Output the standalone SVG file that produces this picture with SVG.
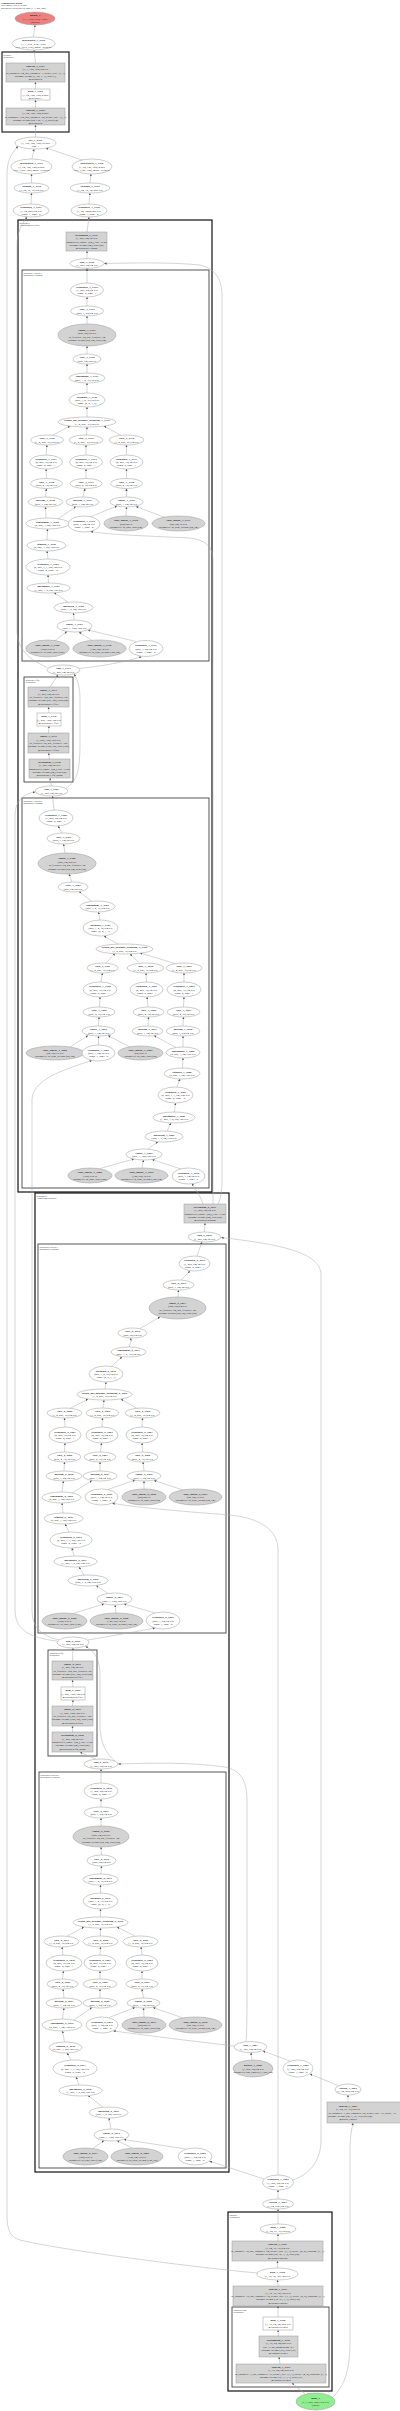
<svg xmlns="http://www.w3.org/2000/svg" width="400" height="2411" viewBox="0 0 400 2411">
<style>
text{font-family:"Liberation Serif","Times New Roman",serif;font-size:2.8px;text-anchor:middle;fill:#222}
.b{font-weight:bold}
.e{fill:#fff;stroke:#999;stroke-width:.5}
.g{fill:#d3d3d3;stroke:#999;stroke-width:.5}
.cb{fill:none;stroke:#111;stroke-width:1.2}
.cs{fill:none;stroke:#333;stroke-width:1.3}
.ci{fill:none;stroke:#444;stroke-width:.9}
.cl{font-size:2.4px;text-anchor:start}
#edges path{fill:none;stroke:#aaa;stroke-width:.5;marker-end:url(#ah)}
</style>
<defs>
<marker id="ah" viewBox="0 0 10 10" refX="10" refY="5" markerWidth="2.4" markerHeight="2.4" orient="auto" markerUnits="userSpaceOnUse"><path d="M0,0L10,5L0,10z" fill="#555"/></marker>
</defs>
<rect width="400" height="2411" fill="#fff"/>
<g id="title"><text class="cl" x="1" y="3.5"><tspan class="b">Computation Graph</tspan><tspan x="1" dy="2.9">169 tensors, total 61.6 MB</tspan><tspan x="1" dy="2.9">MultiheadAttn blocks: 4, input (1, 3, 256, 256)</tspan></text></g>
<g id="clusters">
<rect class="cs" x="2" y="52" width="67" height="80"/><text class="cl" x="3.5" y="55.5"><tspan>decoder</tspan><tspan x="3.5" dy="2.8">Sequential</tspan></text>
<rect class="cb" x="18" y="220" width="194" height="972"/><text class="cl" x="19.5" y="223.5"><tspan>attblocks.1</tspan><tspan x="19.5" dy="2.8">TransformerDecoder</tspan></text>
<rect class="ci" x="22" y="270" width="187" height="391"/><text class="cl" x="23.5" y="273.5"><tspan>attblocks.1.layers.1</tspan><tspan x="23.5" dy="2.8">MultiheadAttention</tspan></text>
<rect class="ci" x="24" y="677" width="49" height="105"/><text class="cl" x="25.5" y="680.5"><tspan>attblocks.1.ffn</tspan><tspan x="25.5" dy="2.8">Sequential</tspan></text>
<rect class="ci" x="22" y="798" width="187" height="390"/><text class="cl" x="23.5" y="801.5"><tspan>attblocks.1.layers.0</tspan><tspan x="23.5" dy="2.8">MultiheadAttention</tspan></text>
<rect class="cb" x="35" y="1193" width="194" height="979"/><text class="cl" x="36.5" y="1196.5"><tspan>attblocks.0</tspan><tspan x="36.5" dy="2.8">TransformerEncoder</tspan></text>
<rect class="ci" x="38" y="1244" width="188" height="389"/><text class="cl" x="39.5" y="1247.5"><tspan>attblocks.0.layers.1</tspan><tspan x="39.5" dy="2.8">MultiheadAttention</tspan></text>
<rect class="ci" x="48" y="1650" width="49" height="106"/><text class="cl" x="49.5" y="1653.5"><tspan>attblocks.0.ffn</tspan><tspan x="49.5" dy="2.8">Sequential</tspan></text>
<rect class="ci" x="39" y="1772" width="187" height="396"/><text class="cl" x="40.5" y="1775.5"><tspan>attblocks.0.layers.0</tspan><tspan x="40.5" dy="2.8">MultiheadAttention</tspan></text>
<rect class="cb" x="228" y="2212" width="104" height="179"/><text class="cl" x="229.5" y="2215.5"><tspan>encoder</tspan><tspan x="229.5" dy="2.8">Sequential</tspan></text>
<rect class="ci" x="232" y="2307" width="97" height="80"/><text class="cl" x="233.5" y="2310.5"><tspan>encoder.stem</tspan><tspan x="233.5" dy="2.8">Sequential</tspan></text>
</g>
<g id="edges">
<path d="M33.5,37L35,25"/><path d="M35.5,63L34,50"/><path d="M35.5,89L35.5,82"/><path d="M35.5,108L35.5,100"/><path d="M35.5,137L35.5,125"/>
<path d="M32,159L34,149"/><path d="M84,160.5L46,148"/><path d="M31.5,183L31.5,174"/><path d="M90,183L91,174"/><path d="M31,204L31.5,193"/><path d="M89,204L90,193"/>
<path d="M87,232L89,217"/><path d="M87,258.7L87,251"/><path d="M87,283L87,268.3"/><path d="M87,306L87,297"/><path d="M87,324L87,316"/><path d="M87,354L87,346"/><path d="M87,373L87,364"/><path d="M87,393L87,383"/><path d="M87,417L87,407"/>
<path d="M52,435.5L70,426"/><path d="M86.5,435L87,427"/><path d="M121,435.5L104,426"/>
<path d="M46,455L47,445"/><path d="M86,455L86,445"/><path d="M126.5,455L126.5,445"/>
<path d="M46.5,478.5L46,469"/><path d="M86,478.5L86,469"/><path d="M126.5,478.5L126.5,469"/>
<path d="M45.5,497L46.5,488.5"/><path d="M83,497L85,488.5"/><path d="M126.5,497L126.5,488.5"/>
<path d="M46,518L45.5,507"/><path d="M58,519L76,506.5"/><path d="M90,517L117,506"/><path d="M126,516L126.5,507"/><path d="M165,517.5L136,506.5"/>
<path d="M47,540L47.5,529"/><path d="M48,559L47,551"/><path d="M48.5,583L48,575"/><path d="M68,602.2L54,592.5"/><path d="M74,620L73.5,613"/>
<path d="M55,640.5L67,631.5"/><path d="M92,640.5L79,632"/><path d="M136,641.5L88,630"/>
<path d="M79,668.5C105,666 128,661 141.5,656.8"/>
<path d="M47.5,667.5C30,660 17,650 17,630L17,245C17,232 22,224 27,216.8"/>
<path d="M50,687L58,674.8"/><path d="M49,713L48.5,707"/><path d="M48.5,733L49,726"/><path d="M49.5,759L48.5,753"/><path d="M51.5,786L50,778"/>
<path d="M66,788.5C78,780 80,770 80,740L80,700C80,688 78,680 74,674"/>
<path d="M54,810L52.5,796"/><path d="M62,833L58,826"/><path d="M65,853L63.5,844"/><path d="M72,882L69,874"/><path d="M92,901.5L79,891.5"/><path d="M100,920L98.5,912"/><path d="M118,944L104,936"/>
<path d="M106,963L115,953.5"/><path d="M140,963.5L130,954"/><path d="M175,963.5L140,953"/>
<path d="M101,982L102.5,973"/><path d="M146.5,982L146,973"/><path d="M184,982L184,973"/>
<path d="M99.5,1007L100,997"/><path d="M148,1007L147,997"/><path d="M183.5,1007L184,997"/>
<path d="M98.5,1026L99,1017"/><path d="M148,1026L148.5,1017"/><path d="M183,1026L183.5,1017"/>
<path d="M176,1047.5L154,1035.5"/><path d="M183,1047L183,1036"/>
<path d="M70,1047L88,1035.5"/><path d="M98.5,1045L98.5,1036"/><path d="M130,1047L108,1035.5"/>
<path d="M182.5,1068L183,1058"/><path d="M177,1087L180,1079"/><path d="M174.5,1112L175.5,1103"/><path d="M167,1131L171,1123"/><path d="M148,1149L158,1141.5"/>
<path d="M100,1168.5L134,1159"/><path d="M142,1168L143.5,1160"/><path d="M181,1169L152,1159.5"/>
<path d="M203,1204C200,1195 196,1190 192,1183.5"/>
<path d="M213,1204C213,1196 213,1190 213,1180L213,560C213,546 205,540 190,538C150,536 110,535 90.5,531.5"/>
<path d="M218,1204C221,1198 222,1190 222,1180L222,295C222,278 214,268 200,265C170,262 130,263 104.2,263.5"/>
<path d="M57,1641C30,1638 15,1630 15,1610L15,815C15,800 25,793 35.2,792"/>
<path d="M59,1640C42,1636 32,1628 32,1610L32,1100C32,1085 50,1075 70,1068C80,1064 88,1062 92,1060.4"/>
<path d="M204.5,1232L205,1223"/><path d="M197,1256L202,1242"/>
<path d="M293,2180C305,2176 321,2165 321,2140L321,1275C321,1255 290,1245 221.2,1237.6"/>
<path d="M181,1280L190,1271"/><path d="M178,1297L178.5,1290"/><path d="M140,1328.5L160,1317"/><path d="M129.5,1347L131,1338"/><path d="M111,1366.5L122,1357"/><path d="M105,1389L106,1382"/>
<path d="M70,1408.5L88,1399"/><path d="M103,1408L104,1400"/><path d="M137,1408.5L121,1399"/>
<path d="M65,1427L64.5,1418"/><path d="M102,1427L102.5,1418"/><path d="M142,1427L142.5,1418"/>
<path d="M64.5,1452L65,1443"/><path d="M100.5,1452L101.5,1443"/><path d="M142.5,1452L142,1443"/>
<path d="M64,1471L64.5,1462"/><path d="M100,1471L100,1462"/><path d="M144,1471L143,1462"/>
<path d="M62,1492L63.5,1481"/><path d="M72,1493L92,1480.5"/>
<path d="M108,1489.5L135,1480"/><path d="M144,1489L144,1481"/><path d="M183,1490L154,1480.5"/>
<path d="M63,1513L62,1503"/><path d="M69,1532L65,1524"/><path d="M74,1556L72,1548"/><path d="M84,1575L79,1567"/><path d="M108,1593.3L96,1585.5"/>
<path d="M73,1613.5L104,1604"/><path d="M116,1613L115,1605"/><path d="M155,1613L124,1604"/>
<path d="M88,1640C110,1636 135,1632 155,1628"/>
<path d="M278,2175L278,1550C278,1530 260,1518 230,1515C190,1512 140,1508 112.3,1503.3"/>
<path d="M72.5,1661L73,1648"/><path d="M73,1687L72.5,1680"/><path d="M72.5,1706L73,1700"/><path d="M72.5,1732L72.5,1726"/><path d="M96,1759.3L80,1752"/>
<path d="M115,1761C108,1755 100,1745 100,1725L100,1675C100,1660 95,1651 85.5,1646.5"/>
<path d="M101,1783L101,1769"/><path d="M101,1807L101,1799"/><path d="M101,1826L101,1818"/><path d="M101.5,1855L101,1847"/><path d="M101,1874L101.5,1866"/><path d="M100.5,1893L100.5,1885"/><path d="M100.5,1917L100.5,1909"/>
<path d="M67,1936L84,1927"/><path d="M100.5,1936L100.5,1928"/><path d="M135,1936L117,1927"/>
<path d="M63,1955L62,1947"/><path d="M100,1955L100.5,1947"/><path d="M142,1955L141,1947"/>
<path d="M62.5,1979L63.5,1971"/><path d="M100,1979L100,1971"/><path d="M142,1979L142,1971"/>
<path d="M64,1998L63,1989"/><path d="M100,1998L100,1989"/><path d="M143.5,1998L142,1989"/>
<path d="M62.5,2019L64,2008"/><path d="M74,2020L92,2007.5"/>
<path d="M109,2017.5L135,2007.5"/><path d="M144,2017L143.5,2008"/><path d="M183,2018L153,2007.5"/>
<path d="M64.5,2042L62.5,2031"/><path d="M71,2060L67,2053"/><path d="M79,2085L76,2077"/><path d="M103,2107.3L88,2095.5"/><path d="M111,2129L109,2118"/>
<path d="M93,2148.5L104,2140.5"/><path d="M132,2148L117,2140.5"/><path d="M186,2149L124,2139.5"/>
<path d="M234.5,2046C200,2042 150,2036 113.3,2030.9"/>
<path d="M246,2041.5C247,2030 247,2010 247,1990L247,1800C247,1780 240,1770 225,1767C190,1762 150,1763 118.2,1764"/>
<path d="M264,2179L209.5,2161.2"/>
<path d="M252,2060L251,2052.5"/><path d="M290,2061L263,2051"/><path d="M338,2085.5L310,2074"/><path d="M348,2102L348,2095"/>
<path d="M278,2199L278,2190"/><path d="M278,2224L278,2209"/><path d="M278,2241L278,2234"/><path d="M277.5,2268L277.5,2261"/><path d="M278,2286L277.5,2280"/>
<path d="M278,2317L278,2306"/><path d="M278.5,2336L278,2330"/><path d="M280,2364L279,2357"/><path d="M305,2394L292,2383"/>
<path d="M333,2397C345,2385 350,2370 350,2340L350,2150C350,2135 352,2128 353,2123"/>
<path d="M257.5,2273C200,2268 60,2250 20,2240C10,2237 7,2230 7,2215L7,175C7,162 10,155 18,146.3"/>
</g>
<g id="n1"><ellipse cx="35" cy="18.5" rx="20" ry="6.5" fill="#f08080" stroke="#999" stroke-width=".5"/><text y="16.1"><tspan x="35" class="b">output_1</tspan><tspan x="35" dy="3.4">(1, 1, 512, 512) 1 MB</tspan><tspan x="35" dy="3.4">(output)</tspan></text></g>
<g id="n2"><ellipse class="e" cx="33.5" cy="43.5" rx="21.5" ry="6.5"/><text y="41.1"><tspan x="33.5" class="b">interpolate_3_4358</tspan><tspan x="33.5" dy="3.4">(1, 1, 512, 512) 1 MB</tspan><tspan x="33.5" dy="3.4">size=(512, 512), mode=bilinear</tspan></text></g>
<g id="n3"><rect class="g" x="6" y="63" width="59" height="19"/><text y="66.7"><tspan x="35.5" class="b">conv2d_3_4357</tspan><tspan x="35.5" dy="3.4">(1, 1, 128, 128) 64 KB</tspan><tspan x="35.5" dy="3.4">in_channels=64, out_channels=1, kernel_size=(1, 1)</tspan><tspan x="35.5" dy="3.4">params: weight (1, 64, 1, 1), bias (1)</tspan><tspan x="35.5" dy="3.4">@decoder.2</tspan></text></g>
<g id="n4"><rect class="e" x="21" y="89" width="29" height="11"/><text y="92.1"><tspan x="35.5" class="b">gelu_3_4356</tspan><tspan x="35.5" dy="3.4">(1, 64, 128, 128) 4 MB</tspan><tspan x="35.5" dy="3.4">@decoder.1</tspan></text></g>
<g id="n5"><rect class="g" x="6" y="108" width="59" height="17"/><text y="110.7"><tspan x="35.5" class="b">conv2d_3_4355</tspan><tspan x="35.5" dy="3.4">(1, 64, 128, 128) 4 MB</tspan><tspan x="35.5" dy="3.4">in_channels=192, out_channels=64, kernel_size=(3, 3)</tspan><tspan x="35.5" dy="3.4">params: weight (64, 192, 3, 3), bias (64)</tspan><tspan x="35.5" dy="3.4">@decoder.0</tspan></text></g>
<g id="n6"><ellipse class="e" cx="35.5" cy="143" rx="20.5" ry="6"/><text y="140.6"><tspan x="35.5" class="b">cat_3_4354</tspan><tspan x="35.5" dy="3.4">(1, 192, 128, 128) 12 MB</tspan><tspan x="35.5" dy="3.4">dim=1</tspan></text></g>
<g id="n7"><ellipse class="e" cx="31.5" cy="166.5" rx="20.5" ry="7.5"/><text y="164.1"><tspan x="31.5" class="b">interpolate_3_4353</tspan><tspan x="31.5" dy="3.4">(1, 64, 128, 128) 4 MB</tspan><tspan x="31.5" dy="3.4">size=(128, 128), mode=bilinear</tspan></text></g>
<g id="n8"><ellipse class="e" cx="92" cy="166.5" rx="20" ry="7.5"/><text y="164.1"><tspan x="92" class="b">interpolate_3_4350</tspan><tspan x="92" dy="3.4">(1, 64, 128, 128) 4 MB</tspan><tspan x="92" dy="3.4">size=(128, 128), mode=bilinear</tspan></text></g>
<g id="n9"><ellipse class="e" cx="31.5" cy="188" rx="17.5" ry="5"/><text y="187.3"><tspan x="31.5" class="b">reshape_3_4352</tspan><tspan x="31.5" dy="3.4">(1, 64, 16, 16) 64 KB</tspan></text></g>
<g id="n10"><ellipse class="e" cx="90" cy="188" rx="20" ry="5"/><text y="187.3"><tspan x="90" class="b">reshape_3_4349</tspan><tspan x="90" dy="3.4">(1, 64, 32, 32) 256 KB</tspan></text></g>
<g id="n11"><ellipse class="e" cx="31" cy="210.5" rx="18" ry="6.5"/><text y="208.1"><tspan x="31" class="b">transpose_3_4351</tspan><tspan x="31" dy="3.4">(1, 64, 256) 64 KB</tspan><tspan x="31" dy="3.4">dim0=1, dim1=2</tspan></text></g>
<g id="n12"><ellipse class="e" cx="89" cy="210.5" rx="18" ry="6.5"/><text y="208.1"><tspan x="89" class="b">transpose_3_4348</tspan><tspan x="89" dy="3.4">(1, 64, 1024) 256 KB</tspan><tspan x="89" dy="3.4">dim0=1, dim1=2</tspan></text></g>
<g id="n13"><rect class="g" x="66" y="232" width="41" height="19"/><text y="235.7"><tspan x="86.5" class="b">layernorm_3_4347</tspan><tspan x="86.5" dy="3.4">(1, 256, 64) 64 KB</tspan><tspan x="86.5" dy="3.4">normalized_shape=(64,), eps=1e-05</tspan><tspan x="86.5" dy="3.4">params: weight (64), bias (64)</tspan><tspan x="86.5" dy="3.4">@attblocks.1.norm</tspan></text></g>
<g id="n14"><ellipse class="e" cx="87" cy="263.5" rx="17" ry="4.8"/><text y="262.8"><tspan x="87" class="b">add_3_4346</tspan><tspan x="87" dy="3.4">(1, 256, 64) 64 KB</tspan></text></g>
<g id="n15"><ellipse class="e" cx="87" cy="290" rx="16.5" ry="7"/><text y="287.6"><tspan x="87" class="b">transpose_3_4345</tspan><tspan x="87" dy="3.4">(1, 256, 64) 64 KB</tspan><tspan x="87" dy="3.4">dim0=0, dim1=1</tspan></text></g>
<g id="n16"><ellipse class="e" cx="87" cy="311" rx="16.5" ry="5"/><text y="310.3"><tspan x="87" class="b">view_3_4344</tspan><tspan x="87" dy="3.4">(256, 1, 64) 64 KB</tspan></text></g>
<g id="n17"><ellipse class="g" cx="87" cy="335" rx="29" ry="11"/><text y="330.9"><tspan x="87" class="b">linear_3_4343</tspan><tspan x="87" dy="3.4">(256, 64) 64 KB</tspan><tspan x="87" dy="3.4">in_features=64, out_features=64</tspan><tspan x="87" dy="3.4">params: weight (64, 64), bias (64)</tspan></text></g>
<g id="n18"><ellipse class="e" cx="87" cy="359" rx="14" ry="5"/><text y="358.3"><tspan x="87" class="b">view_3_4342</tspan><tspan x="87" dy="3.4">(256, 64) 64 KB</tspan></text></g>
<g id="n19"><ellipse class="e" cx="87" cy="378" rx="18" ry="5"/><text y="377.3"><tspan x="87" class="b">contiguous_3_4341</tspan><tspan x="87" dy="3.4">(256, 1, 4, 16) 64 KB</tspan></text></g>
<g id="n20"><ellipse class="e" cx="87" cy="400" rx="18" ry="7"/><text y="397.6"><tspan x="87" class="b">permute_3_4340</tspan><tspan x="87" dy="3.4">(256, 1, 4, 16) 64 KB</tspan><tspan x="87" dy="3.4">dims=(2, 0, 1, 3)</tspan></text></g>
<g id="n21"><ellipse class="e" cx="87" cy="422" rx="29" ry="5"/><text y="421.3"><tspan x="87" class="b">scaled_dot_product_attention_3_4339</tspan><tspan x="87" dy="3.4">(1, 4, 256, 16) 64 KB</tspan></text></g>
<g id="n22"><ellipse class="e" cx="47" cy="440" rx="16.5" ry="5"/><text y="439.3"><tspan x="47" class="b">view_3_4338</tspan><tspan x="47" dy="3.4">(1, 4, 256, 16) 64 KB</tspan></text></g>
<g id="n23"><ellipse class="e" cx="86" cy="440" rx="17" ry="5"/><text y="439.3"><tspan x="86" class="b">view_3_4335</tspan><tspan x="86" dy="3.4">(1, 4, 256, 16) 64 KB</tspan></text></g>
<g id="n24"><ellipse class="e" cx="126.5" cy="440" rx="17.5" ry="5"/><text y="439.3"><tspan x="126.5" class="b">view_3_4332</tspan><tspan x="126.5" dy="3.4">(1, 4, 256, 16) 64 KB</tspan></text></g>
<g id="n25"><ellipse class="e" cx="46" cy="462" rx="16.5" ry="7"/><text y="459.6"><tspan x="46" class="b">transpose_3_4337</tspan><tspan x="46" dy="3.4">(4, 256, 16) 64 KB</tspan><tspan x="46" dy="3.4">dim0=0, dim1=1</tspan></text></g>
<g id="n26"><ellipse class="e" cx="86" cy="462" rx="16.5" ry="7"/><text y="459.6"><tspan x="86" class="b">transpose_3_4334</tspan><tspan x="86" dy="3.4">(4, 256, 16) 64 KB</tspan><tspan x="86" dy="3.4">dim0=0, dim1=1</tspan></text></g>
<g id="n27"><ellipse class="e" cx="126.5" cy="462" rx="16.5" ry="7"/><text y="459.6"><tspan x="126.5" class="b">transpose_3_4331</tspan><tspan x="126.5" dy="3.4">(4, 256, 16) 64 KB</tspan><tspan x="126.5" dy="3.4">dim0=0, dim1=1</tspan></text></g>
<g id="n28"><ellipse class="e" cx="46.5" cy="483.5" rx="16" ry="5"/><text y="482.8"><tspan x="46.5" class="b">view_3_4336</tspan><tspan x="46.5" dy="3.4">(256, 4, 16) 64 KB</tspan></text></g>
<g id="n29"><ellipse class="e" cx="86" cy="483.5" rx="16" ry="5"/><text y="482.8"><tspan x="86" class="b">view_3_4333</tspan><tspan x="86" dy="3.4">(256, 4, 16) 64 KB</tspan></text></g>
<g id="n30"><ellipse class="e" cx="126.5" cy="483.5" rx="16" ry="5"/><text y="482.8"><tspan x="126.5" class="b">view_3_4330</tspan><tspan x="126.5" dy="3.4">(256, 4, 16) 64 KB</tspan></text></g>
<g id="n31"><ellipse class="e" cx="45.5" cy="502" rx="17.5" ry="5"/><text y="501.3"><tspan x="45.5" class="b">getitem_3_4328</tspan><tspan x="45.5" dy="3.4">(256, 1, 64) 64 KB</tspan></text></g>
<g id="n32"><ellipse class="e" cx="82.5" cy="502" rx="16.5" ry="5"/><text y="501.3"><tspan x="82.5" class="b">getitem_3_4327</tspan><tspan x="82.5" dy="3.4">(256, 1, 64) 64 KB</tspan></text></g>
<g id="n33"><ellipse class="e" cx="126.5" cy="502" rx="16.5" ry="5"/><text y="501.3"><tspan x="126.5" class="b">linear_3_4329</tspan><tspan x="126.5" dy="3.4">(256, 1, 64) 64 KB</tspan></text></g>
<g id="n34"><ellipse class="e" cx="47.5" cy="523.5" rx="21.5" ry="5.5"/><text y="522.8"><tspan x="47.5" class="b">contiguous_3_4326</tspan><tspan x="47.5" dy="3.4">(2, 256, 1, 64) 128 KB</tspan></text></g>
<g id="n35"><ellipse class="e" cx="84" cy="524" rx="16" ry="8"/><text y="521.6"><tspan x="84" class="b">transpose_3_4319</tspan><tspan x="84" dy="3.4">(256, 1, 64) 64 KB</tspan><tspan x="84" dy="3.4">dim0=1, dim1=0</tspan></text></g>
<g id="n36"><ellipse class="g" cx="126" cy="523.5" rx="22" ry="7.5"/><text y="521.1"><tspan x="126" class="b">split_tensor_3_4318</tspan><tspan x="126" dy="3.4">(64) 256 B</tspan><tspan x="126" dy="3.4">parameter: in_proj_bias (64)</tspan></text></g>
<g id="n37"><ellipse class="g" cx="178.5" cy="523.5" rx="26.5" ry="7.5"/><text y="521.1"><tspan x="178.5" class="b">split_tensor_3_4317</tspan><tspan x="178.5" dy="3.4">(64, 64) 16 KB</tspan><tspan x="178.5" dy="3.4">parameter: in_proj_weight (64, 64)</tspan></text></g>
<g id="n38"><ellipse class="e" cx="46.5" cy="545.5" rx="19.5" ry="5.5"/><text y="544.8"><tspan x="46.5" class="b">squeeze_3_4325</tspan><tspan x="46.5" dy="3.4">(2, 256, 1, 64) 128 KB</tspan></text></g>
<g id="n39"><ellipse class="e" cx="48" cy="567" rx="22" ry="8"/><text y="564.6"><tspan x="48" class="b">transpose_3_4324</tspan><tspan x="48" dy="3.4">(2, 256, 1, 1, 64) 128 KB</tspan><tspan x="48" dy="3.4">dim0=0, dim1=-2</tspan></text></g>
<g id="n40"><ellipse class="e" cx="48.5" cy="588" rx="21.5" ry="5"/><text y="587.3"><tspan x="48.5" class="b">unsqueeze_3_4323</tspan><tspan x="48.5" dy="3.4">(1, 256, 1, 2, 64) 128 KB</tspan></text></g>
<g id="n41"><ellipse class="e" cx="73.5" cy="607.5" rx="19.5" ry="5.5"/><text y="606.8"><tspan x="73.5" class="b">unflatten_3_4322</tspan><tspan x="73.5" dy="3.4">(256, 1, 2, 64) 128 KB</tspan></text></g>
<g id="n42"><ellipse class="e" cx="74.5" cy="626" rx="17.5" ry="6"/><text y="625.3"><tspan x="74.5" class="b">linear_3_4321</tspan><tspan x="74.5" dy="3.4">(256, 1, 128) 128 KB</tspan></text></g>
<g id="n43"><ellipse class="g" cx="47.5" cy="648.5" rx="21.5" ry="8.5"/><text y="646.1"><tspan x="47.5" class="b">split_tensor_3_4320</tspan><tspan x="47.5" dy="3.4">(128) 512 B</tspan><tspan x="47.5" dy="3.4">parameter: in_proj_bias (128)</tspan></text></g>
<g id="n44"><ellipse class="g" cx="99.5" cy="648.5" rx="26.5" ry="8.5"/><text y="646.1"><tspan x="99.5" class="b">split_tensor_3_4316</tspan><tspan x="99.5" dy="3.4">(128, 64) 32 KB</tspan><tspan x="99.5" dy="3.4">parameter: in_proj_weight (128, 64)</tspan></text></g>
<g id="n45"><ellipse class="e" cx="146" cy="648.5" rx="17" ry="8"/><text y="646.1"><tspan x="146" class="b">transpose_3_4315</tspan><tspan x="146" dy="3.4">(256, 1, 64) 64 KB</tspan><tspan x="146" dy="3.4">dim0=1, dim1=0</tspan></text></g>
<g id="n46"><ellipse class="e" cx="63.5" cy="670" rx="16.5" ry="5"/><text y="669.3"><tspan x="63.5" class="b">add_3_4314</tspan><tspan x="63.5" dy="3.4">(1, 256, 64) 64 KB</tspan></text></g>
<g id="n47"><rect class="g" x="28" y="687" width="41" height="20"/><text y="691.2"><tspan x="48.5" class="b">linear_3_4313</tspan><tspan x="48.5" dy="3.4">(1, 256, 64) 64 KB</tspan><tspan x="48.5" dy="3.4">in_features=128, out_features=64</tspan><tspan x="48.5" dy="3.4">params: weight (64, 128), bias (64)</tspan><tspan x="48.5" dy="3.4">@attblocks.1.ffn.3</tspan></text></g>
<g id="n48"><rect class="e" x="37" y="713" width="24" height="13"/><text y="717.1"><tspan x="49" class="b">gelu_3_4312</tspan><tspan x="49" dy="3.4">(1, 256, 128) 128 KB</tspan><tspan x="49" dy="3.4">@attblocks.1.ffn.1</tspan></text></g>
<g id="n49"><rect class="g" x="28" y="733" width="41" height="20"/><text y="737.2"><tspan x="48.5" class="b">linear_3_4311</tspan><tspan x="48.5" dy="3.4">(1, 256, 128) 128 KB</tspan><tspan x="48.5" dy="3.4">in_features=64, out_features=128</tspan><tspan x="48.5" dy="3.4">params: weight (128, 64), bias (128)</tspan><tspan x="48.5" dy="3.4">@attblocks.1.ffn.0</tspan></text></g>
<g id="n50"><rect class="g" x="29" y="759" width="41" height="19"/><text y="762.7"><tspan x="49.5" class="b">layernorm_3_4310</tspan><tspan x="49.5" dy="3.4">(1, 256, 64) 64 KB</tspan><tspan x="49.5" dy="3.4">normalized_shape=(64,), eps=1e-05</tspan><tspan x="49.5" dy="3.4">params: weight (64), bias (64)</tspan><tspan x="49.5" dy="3.4">@attblocks.1.ffn_norm</tspan></text></g>
<g id="n51"><ellipse class="e" cx="51.5" cy="791" rx="16.5" ry="5"/><text y="790.3"><tspan x="51.5" class="b">add_3_4309</tspan><tspan x="51.5" dy="3.4">(1, 256, 64) 64 KB</tspan></text></g>
<g id="n52"><ellipse class="e" cx="56" cy="818" rx="17" ry="8"/><text y="815.6"><tspan x="56" class="b">transpose_3_4308</tspan><tspan x="56" dy="3.4">(1, 256, 64) 64 KB</tspan><tspan x="56" dy="3.4">dim0=0, dim1=1</tspan></text></g>
<g id="n53"><ellipse class="e" cx="63.5" cy="838.5" rx="16.5" ry="5.5"/><text y="837.8"><tspan x="63.5" class="b">view_3_4307</tspan><tspan x="63.5" dy="3.4">(256, 1, 64) 64 KB</tspan></text></g>
<g id="n54"><ellipse class="g" cx="67" cy="863.5" rx="29" ry="10.5"/><text y="859.4"><tspan x="67" class="b">linear_3_4306</tspan><tspan x="67" dy="3.4">(256, 64) 64 KB</tspan><tspan x="67" dy="3.4">in_features=64, out_features=64</tspan><tspan x="67" dy="3.4">params: weight (64, 64), bias (64)</tspan></text></g>
<g id="n55"><ellipse class="e" cx="73" cy="887" rx="15" ry="5"/><text y="886.3"><tspan x="73" class="b">view_3_4305</tspan><tspan x="73" dy="3.4">(256, 64) 64 KB</tspan></text></g>
<g id="n56"><ellipse class="e" cx="97.5" cy="906.5" rx="17.5" ry="5.5"/><text y="905.8"><tspan x="97.5" class="b">contiguous_3_4304</tspan><tspan x="97.5" dy="3.4">(256, 1, 4, 16) 64 KB</tspan></text></g>
<g id="n57"><ellipse class="e" cx="100.5" cy="928" rx="17.5" ry="8"/><text y="925.6"><tspan x="100.5" class="b">permute_3_4303</tspan><tspan x="100.5" dy="3.4">(256, 1, 4, 16) 64 KB</tspan><tspan x="100.5" dy="3.4">dims=(2, 0, 1, 3)</tspan></text></g>
<g id="n58"><ellipse class="e" cx="124.5" cy="949" rx="28.5" ry="5"/><text y="948.3"><tspan x="124.5" class="b">scaled_dot_product_attention_3_4302</tspan><tspan x="124.5" dy="3.4">(1, 4, 256, 16) 64 KB</tspan></text></g>
<g id="n59"><ellipse class="e" cx="102.5" cy="968" rx="15.5" ry="5"/><text y="967.3"><tspan x="102.5" class="b">view_3_4301</tspan><tspan x="102.5" dy="3.4">(1, 4, 256, 16) 64 KB</tspan></text></g>
<g id="n60"><ellipse class="e" cx="145.5" cy="968" rx="18.5" ry="5"/><text y="967.3"><tspan x="145.5" class="b">view_3_4298</tspan><tspan x="145.5" dy="3.4">(1, 4, 256, 16) 64 KB</tspan></text></g>
<g id="n61"><ellipse class="e" cx="184" cy="968" rx="18" ry="5"/><text y="967.3"><tspan x="184" class="b">view_3_4295</tspan><tspan x="184" dy="3.4">(1, 4, 256, 16) 64 KB</tspan></text></g>
<g id="n62"><ellipse class="e" cx="100" cy="989.5" rx="17" ry="7.5"/><text y="987.1"><tspan x="100" class="b">transpose_3_4300</tspan><tspan x="100" dy="3.4">(4, 256, 16) 64 KB</tspan><tspan x="100" dy="3.4">dim0=0, dim1=1</tspan></text></g>
<g id="n63"><ellipse class="e" cx="146.5" cy="989.5" rx="16.5" ry="7.5"/><text y="987.1"><tspan x="146.5" class="b">transpose_3_4297</tspan><tspan x="146.5" dy="3.4">(4, 256, 16) 64 KB</tspan><tspan x="146.5" dy="3.4">dim0=0, dim1=1</tspan></text></g>
<g id="n64"><ellipse class="e" cx="184" cy="989.5" rx="17" ry="7.5"/><text y="987.1"><tspan x="184" class="b">transpose_3_4294</tspan><tspan x="184" dy="3.4">(4, 256, 16) 64 KB</tspan><tspan x="184" dy="3.4">dim0=0, dim1=1</tspan></text></g>
<g id="n65"><ellipse class="e" cx="99" cy="1012" rx="16" ry="5"/><text y="1011.3"><tspan x="99" class="b">view_3_4299</tspan><tspan x="99" dy="3.4">(256, 4, 16) 64 KB</tspan></text></g>
<g id="n66"><ellipse class="e" cx="148.5" cy="1012" rx="15.5" ry="5"/><text y="1011.3"><tspan x="148.5" class="b">view_3_4296</tspan><tspan x="148.5" dy="3.4">(256, 4, 16) 64 KB</tspan></text></g>
<g id="n67"><ellipse class="e" cx="183.5" cy="1012" rx="16.5" ry="5"/><text y="1011.3"><tspan x="183.5" class="b">view_3_4293</tspan><tspan x="183.5" dy="3.4">(256, 4, 16) 64 KB</tspan></text></g>
<g id="n68"><ellipse class="e" cx="98.5" cy="1031" rx="16.5" ry="5"/><text y="1030.3"><tspan x="98.5" class="b">linear_3_4292</tspan><tspan x="98.5" dy="3.4">(256, 1, 64) 64 KB</tspan></text></g>
<g id="n69"><ellipse class="e" cx="147.5" cy="1031" rx="15.5" ry="5"/><text y="1030.3"><tspan x="147.5" class="b">getitem_3_4291</tspan><tspan x="147.5" dy="3.4">(256, 1, 64) 64 KB</tspan></text></g>
<g id="n70"><ellipse class="e" cx="183" cy="1031" rx="17" ry="5"/><text y="1030.3"><tspan x="183" class="b">getitem_3_4290</tspan><tspan x="183" dy="3.4">(256, 1, 64) 64 KB</tspan></text></g>
<g id="n71"><ellipse class="g" cx="55" cy="1053" rx="29" ry="7"/><text y="1050.6"><tspan x="55" class="b">split_tensor_3_4282</tspan><tspan x="55" dy="3.4">(64, 64) 16 KB</tspan><tspan x="55" dy="3.4">parameter: in_proj_weight (64, 64)</tspan></text></g>
<g id="n72"><ellipse class="e" cx="98.5" cy="1053" rx="16.5" ry="8"/><text y="1050.6"><tspan x="98.5" class="b">transpose_3_4281</tspan><tspan x="98.5" dy="3.4">(256, 1, 64) 64 KB</tspan><tspan x="98.5" dy="3.4">dim0=1, dim1=0</tspan></text></g>
<g id="n73"><ellipse class="g" cx="140.5" cy="1053" rx="22.5" ry="7"/><text y="1050.6"><tspan x="140.5" class="b">split_tensor_3_4283</tspan><tspan x="140.5" dy="3.4">(64) 256 B</tspan><tspan x="140.5" dy="3.4">parameter: in_proj_bias (64)</tspan></text></g>
<g id="n74"><ellipse class="e" cx="183" cy="1052.5" rx="17" ry="5.5"/><text y="1051.8"><tspan x="183" class="b">contiguous_3_4289</tspan><tspan x="183" dy="3.4">(2, 256, 1, 64) 128 KB</tspan></text></g>
<g id="n75"><ellipse class="e" cx="182" cy="1073.5" rx="18" ry="5.5"/><text y="1072.8"><tspan x="182" class="b">squeeze_3_4288</tspan><tspan x="182" dy="3.4">(2, 256, 1, 64) 128 KB</tspan></text></g>
<g id="n76"><ellipse class="e" cx="175.5" cy="1095" rx="17.5" ry="8"/><text y="1092.6"><tspan x="175.5" class="b">transpose_3_4287</tspan><tspan x="175.5" dy="3.4">(2, 256, 1, 1, 64) 128 KB</tspan><tspan x="175.5" dy="3.4">dim0=0, dim1=-2</tspan></text></g>
<g id="n77"><ellipse class="e" cx="174" cy="1117.5" rx="21" ry="5.5"/><text y="1116.8"><tspan x="174" class="b">unsqueeze_3_4286</tspan><tspan x="174" dy="3.4">(1, 256, 1, 2, 64) 128 KB</tspan></text></g>
<g id="n78"><ellipse class="e" cx="164" cy="1136.5" rx="19" ry="5.5"/><text y="1135.8"><tspan x="164" class="b">unflatten_3_4285</tspan><tspan x="164" dy="3.4">(256, 1, 2, 64) 128 KB</tspan></text></g>
<g id="n79"><ellipse class="e" cx="144" cy="1154.5" rx="18" ry="5.5"/><text y="1153.8"><tspan x="144" class="b">linear_3_4284</tspan><tspan x="144" dy="3.4">(256, 1, 128) 128 KB</tspan></text></g>
<g id="n80"><ellipse class="g" cx="90" cy="1175.5" rx="22" ry="7.5"/><text y="1173.1"><tspan x="90" class="b">split_tensor_3_4280</tspan><tspan x="90" dy="3.4">(128) 512 B</tspan><tspan x="90" dy="3.4">parameter: in_proj_bias (128)</tspan></text></g>
<g id="n81"><ellipse class="g" cx="141.5" cy="1175.5" rx="26.5" ry="7.5"/><text y="1173.1"><tspan x="141.5" class="b">split_tensor_3_4279</tspan><tspan x="141.5" dy="3.4">(128, 64) 32 KB</tspan><tspan x="141.5" dy="3.4">parameter: in_proj_weight (128, 64)</tspan></text></g>
<g id="n82"><ellipse class="e" cx="188.5" cy="1176" rx="16.5" ry="8"/><text y="1173.6"><tspan x="188.5" class="b">transpose_3_4278</tspan><tspan x="188.5" dy="3.4">(256, 1, 64) 64 KB</tspan><tspan x="188.5" dy="3.4">dim0=1, dim1=0</tspan></text></g>
<g id="n83"><rect class="g" x="184" y="1204" width="42" height="19"/><text y="1207.7"><tspan x="205" class="b">layernorm_2_4277</tspan><tspan x="205" dy="3.4">(1, 256, 64) 64 KB</tspan><tspan x="205" dy="3.4">normalized_shape=(64,), eps=1e-05</tspan><tspan x="205" dy="3.4">params: weight (64), bias (64)</tspan><tspan x="205" dy="3.4">@attblocks.0.norm</tspan></text></g>
<g id="n84"><ellipse class="e" cx="204.5" cy="1237" rx="16.5" ry="5"/><text y="1236.3"><tspan x="204.5" class="b">add_2_4276</tspan><tspan x="204.5" dy="3.4">(1, 256, 64) 64 KB</tspan></text></g>
<g id="n85"><ellipse class="e" cx="194.5" cy="1263.5" rx="15.5" ry="7.5"/><text y="1261.1"><tspan x="194.5" class="b">transpose_2_4275</tspan><tspan x="194.5" dy="3.4">(1, 256, 64) 64 KB</tspan><tspan x="194.5" dy="3.4">dim0=0, dim1=1</tspan></text></g>
<g id="n86"><ellipse class="e" cx="178.5" cy="1285" rx="15.5" ry="5"/><text y="1284.3"><tspan x="178.5" class="b">view_2_4274</tspan><tspan x="178.5" dy="3.4">(256, 1, 64) 64 KB</tspan></text></g>
<g id="n87"><ellipse class="g" cx="177.5" cy="1308" rx="28.5" ry="11"/><text y="1303.9"><tspan x="177.5" class="b">linear_2_4273</tspan><tspan x="177.5" dy="3.4">(256, 64) 64 KB</tspan><tspan x="177.5" dy="3.4">in_features=64, out_features=64</tspan><tspan x="177.5" dy="3.4">params: weight (64, 64), bias (64)</tspan></text></g>
<g id="n88"><ellipse class="e" cx="132.5" cy="1333" rx="14.5" ry="5"/><text y="1332.3"><tspan x="132.5" class="b">view_2_4272</tspan><tspan x="132.5" dy="3.4">(256, 64) 64 KB</tspan></text></g>
<g id="n89"><ellipse class="e" cx="128.5" cy="1352" rx="17.5" ry="5"/><text y="1351.3"><tspan x="128.5" class="b">contiguous_2_4271</tspan><tspan x="128.5" dy="3.4">(256, 1, 4, 16) 64 KB</tspan></text></g>
<g id="n90"><ellipse class="e" cx="106" cy="1374" rx="17" ry="8"/><text y="1371.6"><tspan x="106" class="b">permute_2_4270</tspan><tspan x="106" dy="3.4">(256, 1, 4, 16) 64 KB</tspan><tspan x="106" dy="3.4">dims=(2, 0, 1, 3)</tspan></text></g>
<g id="n91"><ellipse class="e" cx="104.5" cy="1394.5" rx="27.5" ry="5.5"/><text y="1393.8"><tspan x="104.5" class="b">scaled_dot_product_attention_2_4269</tspan><tspan x="104.5" dy="3.4">(1, 4, 256, 16) 64 KB</tspan></text></g>
<g id="n92"><ellipse class="e" cx="64.5" cy="1413" rx="17.5" ry="5"/><text y="1412.3"><tspan x="64.5" class="b">view_2_4268</tspan><tspan x="64.5" dy="3.4">(1, 4, 256, 16) 64 KB</tspan></text></g>
<g id="n93"><ellipse class="e" cx="102.5" cy="1413" rx="16.5" ry="5"/><text y="1412.3"><tspan x="102.5" class="b">view_2_4265</tspan><tspan x="102.5" dy="3.4">(1, 4, 256, 16) 64 KB</tspan></text></g>
<g id="n94"><ellipse class="e" cx="142.5" cy="1413" rx="17.5" ry="5"/><text y="1412.3"><tspan x="142.5" class="b">view_2_4262</tspan><tspan x="142.5" dy="3.4">(1, 4, 256, 16) 64 KB</tspan></text></g>
<g id="n95"><ellipse class="e" cx="65" cy="1435" rx="16" ry="8"/><text y="1432.6"><tspan x="65" class="b">transpose_2_4267</tspan><tspan x="65" dy="3.4">(4, 256, 16) 64 KB</tspan><tspan x="65" dy="3.4">dim0=0, dim1=1</tspan></text></g>
<g id="n96"><ellipse class="e" cx="102" cy="1435" rx="16" ry="8"/><text y="1432.6"><tspan x="102" class="b">transpose_2_4264</tspan><tspan x="102" dy="3.4">(4, 256, 16) 64 KB</tspan><tspan x="102" dy="3.4">dim0=0, dim1=1</tspan></text></g>
<g id="n97"><ellipse class="e" cx="142" cy="1435" rx="16" ry="8"/><text y="1432.6"><tspan x="142" class="b">transpose_2_4261</tspan><tspan x="142" dy="3.4">(4, 256, 16) 64 KB</tspan><tspan x="142" dy="3.4">dim0=0, dim1=1</tspan></text></g>
<g id="n98"><ellipse class="e" cx="64.5" cy="1457" rx="16.5" ry="5"/><text y="1456.3"><tspan x="64.5" class="b">view_2_4266</tspan><tspan x="64.5" dy="3.4">(256, 4, 16) 64 KB</tspan></text></g>
<g id="n99"><ellipse class="e" cx="100" cy="1457" rx="16" ry="5"/><text y="1456.3"><tspan x="100" class="b">view_2_4263</tspan><tspan x="100" dy="3.4">(256, 4, 16) 64 KB</tspan></text></g>
<g id="n100"><ellipse class="e" cx="142.5" cy="1457" rx="15.5" ry="5"/><text y="1456.3"><tspan x="142.5" class="b">view_2_4260</tspan><tspan x="142.5" dy="3.4">(256, 4, 16) 64 KB</tspan></text></g>
<g id="n101"><ellipse class="e" cx="64" cy="1476" rx="18" ry="5"/><text y="1475.3"><tspan x="64" class="b">getitem_2_4258</tspan><tspan x="64" dy="3.4">(256, 1, 64) 64 KB</tspan></text></g>
<g id="n102"><ellipse class="e" cx="100" cy="1476" rx="17" ry="5"/><text y="1475.3"><tspan x="100" class="b">getitem_2_4257</tspan><tspan x="100" dy="3.4">(256, 1, 64) 64 KB</tspan></text></g>
<g id="n103"><ellipse class="e" cx="144" cy="1476" rx="17" ry="5"/><text y="1475.3"><tspan x="144" class="b">linear_2_4259</tspan><tspan x="144" dy="3.4">(256, 1, 64) 64 KB</tspan></text></g>
<g id="n104"><ellipse class="e" cx="61.5" cy="1497.5" rx="19.5" ry="5.5"/><text y="1496.8"><tspan x="61.5" class="b">contiguous_2_4256</tspan><tspan x="61.5" dy="3.4">(2, 256, 1, 64) 128 KB</tspan></text></g>
<g id="n105"><ellipse class="e" cx="101.5" cy="1497" rx="16.5" ry="8"/><text y="1494.6"><tspan x="101.5" class="b">transpose_2_4249</tspan><tspan x="101.5" dy="3.4">(256, 1, 64) 64 KB</tspan><tspan x="101.5" dy="3.4">dim0=1, dim1=0</tspan></text></g>
<g id="n106"><ellipse class="g" cx="144" cy="1497" rx="22" ry="8"/><text y="1494.6"><tspan x="144" class="b">split_tensor_2_4248</tspan><tspan x="144" dy="3.4">(64) 256 B</tspan><tspan x="144" dy="3.4">parameter: in_proj_bias (64)</tspan></text></g>
<g id="n107"><ellipse class="g" cx="195.5" cy="1497" rx="26.5" ry="8"/><text y="1494.6"><tspan x="195.5" class="b">split_tensor_2_4247</tspan><tspan x="195.5" dy="3.4">(64, 64) 16 KB</tspan><tspan x="195.5" dy="3.4">parameter: in_proj_weight (64, 64)</tspan></text></g>
<g id="n108"><ellipse class="e" cx="63.5" cy="1518.5" rx="19.5" ry="5.5"/><text y="1517.8"><tspan x="63.5" class="b">squeeze_2_4255</tspan><tspan x="63.5" dy="3.4">(2, 256, 1, 64) 128 KB</tspan></text></g>
<g id="n109"><ellipse class="e" cx="71" cy="1540" rx="21" ry="8"/><text y="1537.6"><tspan x="71" class="b">transpose_2_4254</tspan><tspan x="71" dy="3.4">(2, 256, 1, 1, 64) 128 KB</tspan><tspan x="71" dy="3.4">dim0=0, dim1=-2</tspan></text></g>
<g id="n110"><ellipse class="e" cx="75.5" cy="1561.5" rx="21.5" ry="5.5"/><text y="1560.8"><tspan x="75.5" class="b">unsqueeze_2_4253</tspan><tspan x="75.5" dy="3.4">(1, 256, 1, 2, 64) 128 KB</tspan></text></g>
<g id="n111"><ellipse class="e" cx="88" cy="1580.5" rx="20" ry="5.5"/><text y="1579.8"><tspan x="88" class="b">unflatten_2_4252</tspan><tspan x="88" dy="3.4">(256, 1, 2, 64) 128 KB</tspan></text></g>
<g id="n112"><ellipse class="e" cx="114.5" cy="1599" rx="17.5" ry="6"/><text y="1598.3"><tspan x="114.5" class="b">linear_2_4251</tspan><tspan x="114.5" dy="3.4">(256, 1, 128) 128 KB</tspan></text></g>
<g id="n113"><ellipse class="g" cx="64.5" cy="1621" rx="22.5" ry="8"/><text y="1618.6"><tspan x="64.5" class="b">split_tensor_2_4250</tspan><tspan x="64.5" dy="3.4">(128) 512 B</tspan><tspan x="64.5" dy="3.4">parameter: in_proj_bias (128)</tspan></text></g>
<g id="n114"><ellipse class="g" cx="116.5" cy="1621" rx="26.5" ry="8"/><text y="1618.6"><tspan x="116.5" class="b">split_tensor_2_4246</tspan><tspan x="116.5" dy="3.4">(128, 64) 32 KB</tspan><tspan x="116.5" dy="3.4">parameter: in_proj_weight (128, 64)</tspan></text></g>
<g id="n115"><ellipse class="e" cx="163" cy="1620.5" rx="17" ry="8.5"/><text y="1618.1"><tspan x="163" class="b">transpose_2_4245</tspan><tspan x="163" dy="3.4">(256, 1, 64) 64 KB</tspan><tspan x="163" dy="3.4">dim0=1, dim1=0</tspan></text></g>
<g id="n116"><ellipse class="e" cx="73" cy="1642.5" rx="16" ry="5.5"/><text y="1641.8"><tspan x="73" class="b">add_2_4244</tspan><tspan x="73" dy="3.4">(1, 256, 64) 64 KB</tspan></text></g>
<g id="n117"><rect class="g" x="52" y="1661" width="41" height="19"/><text y="1664.7"><tspan x="72.5" class="b">linear_2_4243</tspan><tspan x="72.5" dy="3.4">(1, 256, 64) 64 KB</tspan><tspan x="72.5" dy="3.4">in_features=128, out_features=64</tspan><tspan x="72.5" dy="3.4">params: weight (64, 128), bias (64)</tspan><tspan x="72.5" dy="3.4">@attblocks.0.ffn.3</tspan></text></g>
<g id="n118"><rect class="e" x="61" y="1687" width="24" height="13"/><text y="1691.1"><tspan x="73" class="b">gelu_2_4242</tspan><tspan x="73" dy="3.4">(1, 256, 128) 128 KB</tspan><tspan x="73" dy="3.4">@attblocks.0.ffn.1</tspan></text></g>
<g id="n119"><rect class="g" x="52" y="1706" width="41" height="20"/><text y="1710.2"><tspan x="72.5" class="b">linear_2_4241</tspan><tspan x="72.5" dy="3.4">(1, 256, 128) 128 KB</tspan><tspan x="72.5" dy="3.4">in_features=64, out_features=128</tspan><tspan x="72.5" dy="3.4">params: weight (128, 64), bias (128)</tspan><tspan x="72.5" dy="3.4">@attblocks.0.ffn.0</tspan></text></g>
<g id="n120"><rect class="g" x="52" y="1732" width="41" height="20"/><text y="1736.2"><tspan x="72.5" class="b">layernorm_2_4240</tspan><tspan x="72.5" dy="3.4">(1, 256, 64) 64 KB</tspan><tspan x="72.5" dy="3.4">normalized_shape=(64,), eps=1e-05</tspan><tspan x="72.5" dy="3.4">params: weight (64), bias (64)</tspan><tspan x="72.5" dy="3.4">@attblocks.0.ffn_norm</tspan></text></g>
<g id="n121"><ellipse class="e" cx="101" cy="1764" rx="17" ry="5"/><text y="1763.3"><tspan x="101" class="b">add_2_4239</tspan><tspan x="101" dy="3.4">(1, 256, 64) 64 KB</tspan></text></g>
<g id="n122"><ellipse class="e" cx="101" cy="1791" rx="17" ry="8"/><text y="1788.6"><tspan x="101" class="b">transpose_2_4238</tspan><tspan x="101" dy="3.4">(1, 256, 64) 64 KB</tspan><tspan x="101" dy="3.4">dim0=0, dim1=1</tspan></text></g>
<g id="n123"><ellipse class="e" cx="101" cy="1812.5" rx="17" ry="5.5"/><text y="1811.8"><tspan x="101" class="b">view_2_4237</tspan><tspan x="101" dy="3.4">(256, 1, 64) 64 KB</tspan></text></g>
<g id="n124"><ellipse class="g" cx="101" cy="1836.5" rx="28" ry="10.5"/><text y="1832.4"><tspan x="101" class="b">linear_2_4236</tspan><tspan x="101" dy="3.4">(256, 64) 64 KB</tspan><tspan x="101" dy="3.4">in_features=64, out_features=64</tspan><tspan x="101" dy="3.4">params: weight (64, 64), bias (64)</tspan></text></g>
<g id="n125"><ellipse class="e" cx="101.5" cy="1860.5" rx="14.5" ry="5.5"/><text y="1859.8"><tspan x="101.5" class="b">view_2_4235</tspan><tspan x="101.5" dy="3.4">(256, 64) 64 KB</tspan></text></g>
<g id="n126"><ellipse class="e" cx="100.5" cy="1879.5" rx="17.5" ry="5.5"/><text y="1878.8"><tspan x="100.5" class="b">contiguous_2_4234</tspan><tspan x="100.5" dy="3.4">(256, 1, 4, 16) 64 KB</tspan></text></g>
<g id="n127"><ellipse class="e" cx="100.5" cy="1901" rx="17.5" ry="8"/><text y="1898.6"><tspan x="100.5" class="b">permute_2_4233</tspan><tspan x="100.5" dy="3.4">(256, 1, 4, 16) 64 KB</tspan><tspan x="100.5" dy="3.4">dims=(2, 0, 1, 3)</tspan></text></g>
<g id="n128"><ellipse class="e" cx="100.5" cy="1922.5" rx="27.5" ry="5.5"/><text y="1921.8"><tspan x="100.5" class="b">scaled_dot_product_attention_2_4232</tspan><tspan x="100.5" dy="3.4">(1, 4, 256, 16) 64 KB</tspan></text></g>
<g id="n129"><ellipse class="e" cx="61.5" cy="1941.5" rx="17.5" ry="5.5"/><text y="1940.8"><tspan x="61.5" class="b">view_2_4231</tspan><tspan x="61.5" dy="3.4">(1, 4, 256, 16) 64 KB</tspan></text></g>
<g id="n130"><ellipse class="e" cx="100.5" cy="1941.5" rx="17.5" ry="5.5"/><text y="1940.8"><tspan x="100.5" class="b">view_2_4228</tspan><tspan x="100.5" dy="3.4">(1, 4, 256, 16) 64 KB</tspan></text></g>
<g id="n131"><ellipse class="e" cx="140.5" cy="1941.5" rx="17.5" ry="5.5"/><text y="1940.8"><tspan x="140.5" class="b">view_2_4225</tspan><tspan x="140.5" dy="3.4">(1, 4, 256, 16) 64 KB</tspan></text></g>
<g id="n132"><ellipse class="e" cx="64" cy="1963" rx="18" ry="8"/><text y="1960.6"><tspan x="64" class="b">transpose_2_4230</tspan><tspan x="64" dy="3.4">(4, 256, 16) 64 KB</tspan><tspan x="64" dy="3.4">dim0=0, dim1=1</tspan></text></g>
<g id="n133"><ellipse class="e" cx="100" cy="1963" rx="16" ry="8"/><text y="1960.6"><tspan x="100" class="b">transpose_2_4227</tspan><tspan x="100" dy="3.4">(4, 256, 16) 64 KB</tspan><tspan x="100" dy="3.4">dim0=0, dim1=1</tspan></text></g>
<g id="n134"><ellipse class="e" cx="142" cy="1963" rx="16" ry="8"/><text y="1960.6"><tspan x="142" class="b">transpose_2_4224</tspan><tspan x="142" dy="3.4">(4, 256, 16) 64 KB</tspan><tspan x="142" dy="3.4">dim0=0, dim1=1</tspan></text></g>
<g id="n135"><ellipse class="e" cx="62.5" cy="1984" rx="15.5" ry="5"/><text y="1983.3"><tspan x="62.5" class="b">view_2_4229</tspan><tspan x="62.5" dy="3.4">(256, 4, 16) 64 KB</tspan></text></g>
<g id="n136"><ellipse class="e" cx="100" cy="1984" rx="17" ry="5"/><text y="1983.3"><tspan x="100" class="b">view_2_4226</tspan><tspan x="100" dy="3.4">(256, 4, 16) 64 KB</tspan></text></g>
<g id="n137"><ellipse class="e" cx="142" cy="1984" rx="16" ry="5"/><text y="1983.3"><tspan x="142" class="b">view_2_4223</tspan><tspan x="142" dy="3.4">(256, 4, 16) 64 KB</tspan></text></g>
<g id="n138"><ellipse class="e" cx="64" cy="2003" rx="18" ry="5"/><text y="2002.3"><tspan x="64" class="b">getitem_2_4221</tspan><tspan x="64" dy="3.4">(256, 1, 64) 64 KB</tspan></text></g>
<g id="n139"><ellipse class="e" cx="100" cy="2003" rx="17" ry="5"/><text y="2002.3"><tspan x="100" class="b">getitem_2_4220</tspan><tspan x="100" dy="3.4">(256, 1, 64) 64 KB</tspan></text></g>
<g id="n140"><ellipse class="e" cx="143.5" cy="2003" rx="16.5" ry="5"/><text y="2002.3"><tspan x="143.5" class="b">linear_2_4222</tspan><tspan x="143.5" dy="3.4">(256, 1, 64) 64 KB</tspan></text></g>
<g id="n141"><ellipse class="e" cx="62" cy="2025" rx="20" ry="6"/><text y="2024.3"><tspan x="62" class="b">contiguous_2_4219</tspan><tspan x="62" dy="3.4">(2, 256, 1, 64) 128 KB</tspan></text></g>
<g id="n142"><ellipse class="e" cx="102" cy="2025" rx="16" ry="8"/><text y="2022.6"><tspan x="102" class="b">transpose_2_4212</tspan><tspan x="102" dy="3.4">(256, 1, 64) 64 KB</tspan><tspan x="102" dy="3.4">dim0=1, dim1=0</tspan></text></g>
<g id="n143"><ellipse class="g" cx="144" cy="2025" rx="22" ry="8"/><text y="2022.6"><tspan x="144" class="b">split_tensor_2_4211</tspan><tspan x="144" dy="3.4">(64) 256 B</tspan><tspan x="144" dy="3.4">parameter: in_proj_bias (64)</tspan></text></g>
<g id="n144"><ellipse class="g" cx="195.5" cy="2025" rx="26.5" ry="8"/><text y="2022.6"><tspan x="195.5" class="b">split_tensor_2_4210</tspan><tspan x="195.5" dy="3.4">(64, 64) 16 KB</tspan><tspan x="195.5" dy="3.4">parameter: in_proj_weight (64, 64)</tspan></text></g>
<g id="n145"><ellipse class="e" cx="65.5" cy="2047.5" rx="16.5" ry="5.5"/><text y="2046.8"><tspan x="65.5" class="b">squeeze_2_4218</tspan><tspan x="65.5" dy="3.4">(2, 256, 1, 64) 128 KB</tspan></text></g>
<g id="n146"><ellipse class="e" cx="75" cy="2068.5" rx="22" ry="8.5"/><text y="2066.1"><tspan x="75" class="b">transpose_2_4217</tspan><tspan x="75" dy="3.4">(2, 256, 1, 1, 64) 128 KB</tspan><tspan x="75" dy="3.4">dim0=0, dim1=-2</tspan></text></g>
<g id="n147"><ellipse class="e" cx="80.5" cy="2090.5" rx="21.5" ry="5.5"/><text y="2089.8"><tspan x="80.5" class="b">unsqueeze_2_4216</tspan><tspan x="80.5" dy="3.4">(1, 256, 1, 2, 64) 128 KB</tspan></text></g>
<g id="n148"><ellipse class="e" cx="108.5" cy="2112.5" rx="19.5" ry="5.5"/><text y="2111.8"><tspan x="108.5" class="b">unflatten_2_4215</tspan><tspan x="108.5" dy="3.4">(256, 1, 2, 64) 128 KB</tspan></text></g>
<g id="n149"><ellipse class="e" cx="111.5" cy="2135" rx="17.5" ry="6"/><text y="2134.3"><tspan x="111.5" class="b">linear_2_4214</tspan><tspan x="111.5" dy="3.4">(256, 1, 128) 128 KB</tspan></text></g>
<g id="n150"><ellipse class="g" cx="85.5" cy="2156.5" rx="22.5" ry="8.5"/><text y="2154.1"><tspan x="85.5" class="b">split_tensor_2_4213</tspan><tspan x="85.5" dy="3.4">(128) 512 B</tspan><tspan x="85.5" dy="3.4">parameter: in_proj_bias (128)</tspan></text></g>
<g id="n151"><ellipse class="g" cx="137" cy="2156.5" rx="26" ry="8.5"/><text y="2154.1"><tspan x="137" class="b">split_tensor_2_4209</tspan><tspan x="137" dy="3.4">(128, 64) 32 KB</tspan><tspan x="137" dy="3.4">parameter: in_proj_weight (128, 64)</tspan></text></g>
<g id="n152"><ellipse class="e" cx="195" cy="2156.5" rx="17" ry="8.5"/><text y="2154.1"><tspan x="195" class="b">transpose_2_4208</tspan><tspan x="195" dy="3.4">(256, 1, 64) 64 KB</tspan><tspan x="195" dy="3.4">dim0=1, dim1=0</tspan></text></g>
<g id="n153"><ellipse class="e" cx="250.5" cy="2047" rx="16.5" ry="5.5"/><text y="2046.3"><tspan x="250.5" class="b">add_1_4207</tspan><tspan x="250.5" dy="3.4">(1, 256, 64) 64 KB</tspan></text></g>
<g id="n154"><ellipse class="g" cx="253" cy="2068.5" rx="20" ry="8.5"/><text y="2066.1"><tspan x="253" class="b">getattr_1_4206</tspan><tspan x="253" dy="3.4">(1, 256, 64) 64 KB</tspan><tspan x="253" dy="3.4">parameter: pos_embed (1, 256, 64)</tspan></text></g>
<g id="n155"><ellipse class="e" cx="298" cy="2068.5" rx="15" ry="8.5"/><text y="2066.1"><tspan x="298" class="b">transpose_1_4205</tspan><tspan x="298" dy="3.4">(1, 256, 64) 64 KB</tspan><tspan x="298" dy="3.4">dim0=1, dim1=2</tspan></text></g>
<g id="n156"><ellipse class="e" cx="348" cy="2089.5" rx="13" ry="5.5"/><text y="2088.8"><tspan x="348" class="b">flatten_1_4204</tspan><tspan x="348" dy="3.4">(1, 64, 256) 64 KB</tspan></text></g>
<g id="n157"><rect class="g" x="327" y="2102" width="76" height="21"/><text y="2106.7"><tspan x="348" class="b">conv2d_1_4203</tspan><tspan x="348" dy="3.4">(1, 64, 16, 16) 64 KB</tspan><tspan x="328.5" dy="3.4" text-anchor="start">in_channels=3, out_channels=64, kernel_size=16, stride=16</tspan><tspan x="350" dy="3.4">params: weight (64, 3, 16, 16) bias (64)</tspan><tspan x="348" dy="3.4">@patch_embed</tspan></text></g>
<g id="n160"><ellipse class="e" cx="278" cy="2182.5" rx="15.5" ry="7.5"/><text y="2180.1"><tspan x="278" class="b">transpose_1_4202</tspan><tspan x="278" dy="3.4">(1, 256, 64) 64 KB</tspan><tspan x="278" dy="3.4">dim0=1, dim1=2</tspan></text></g>
<g id="n161"><ellipse class="e" cx="278" cy="2204" rx="15.5" ry="5"/><text y="2203.3"><tspan x="278" class="b">flatten_1_4201</tspan><tspan x="278" dy="3.4">(1, 64, 256) 64 KB</tspan></text></g>
<g id="n162"><ellipse class="e" cx="278" cy="2229" rx="18" ry="5"/><text y="2228.3"><tspan x="278" class="b">gelu_1_4200</tspan><tspan x="278" dy="3.4">(1, 64, 16, 16) 64 KB</tspan></text></g>
<g id="n163"><rect class="g" x="232" y="2241" width="91" height="20"/><text y="2245.2"><tspan x="277.5" class="b">conv2d_1_4199</tspan><tspan x="277.5" dy="3.4">(1, 64, 16, 16) 64 KB</tspan><tspan x="277.5" dy="3.4">in_channels=32, out_channels=64, kernel_size=(3, 3), stride=(2, 2), padding=(1, 1)</tspan><tspan x="277.5" dy="3.4">params: weight (64, 32, 3, 3), bias (64)</tspan><tspan x="277.5" dy="3.4">@encoder.down2</tspan></text></g>
<g id="n164"><ellipse class="e" cx="277.5" cy="2274" rx="20.5" ry="6"/><text y="2273.3"><tspan x="277.5" class="b">gelu_1_4198</tspan><tspan x="277.5" dy="3.4">(1, 32, 32, 32) 128 KB</tspan></text></g>
<g id="n165"><rect class="g" x="233" y="2286" width="90" height="20"/><text y="2290.2"><tspan x="278" class="b">conv2d_1_4197</tspan><tspan x="278" dy="3.4">(1, 32, 32, 32) 128 KB</tspan><tspan x="278" dy="3.4">in_channels=16, out_channels=32, kernel_size=(3, 3), stride=(2, 2), padding=(1, 1)</tspan><tspan x="278" dy="3.4">params: weight (32, 16, 3, 3), bias (32)</tspan><tspan x="278" dy="3.4">@encoder.down1</tspan></text></g>
<g id="n166"><rect class="e" x="263" y="2317" width="30" height="13"/><text y="2321.1"><tspan x="278" class="b">gelu_1_4196</tspan><tspan x="278" dy="3.4">(1, 16, 64, 64) 256 KB</tspan><tspan x="278" dy="3.4">@encoder.stem.2</tspan></text></g>
<g id="n167"><rect class="g" x="259" y="2336" width="39" height="21"/><text y="2340.7"><tspan x="278.5" class="b">batchnorm_1_4195</tspan><tspan x="278.5" dy="3.4">(1, 16, 64, 64) 256 KB</tspan><tspan x="278.5" dy="3.4">eps=1e-05, momentum=0.1</tspan><tspan x="278.5" dy="3.4">params: weight (16), bias (16)</tspan><tspan x="278.5" dy="3.4">@encoder.stem.1</tspan></text></g>
<g id="n168"><rect class="g" x="236" y="2364" width="90" height="19"/><text y="2367.7"><tspan x="281" class="b">conv2d_1_4194</tspan><tspan x="281" dy="3.4">(1, 16, 64, 64) 256 KB</tspan><tspan x="281" dy="3.4">in_channels=3, out_channels=16, kernel_size=(3, 3), stride=(4, 4), padding=(1, 1)</tspan><tspan x="281" dy="3.4">params: weight (16, 3, 3, 3), bias (16)</tspan><tspan x="281" dy="3.4">@encoder.stem.0</tspan></text></g>
<g id="n169"><ellipse cx="315.5" cy="2401.5" rx="19.5" ry="8.5" fill="#90ee90" stroke="#999" stroke-width=".5"/><text y="2399.1"><tspan x="315.5" class="b">input_1</tspan><tspan x="315.5" dy="3.4">(1, 3, 256, 256) 768 KB</tspan><tspan x="315.5" dy="3.4">(input)</tspan></text></g>
</svg>
